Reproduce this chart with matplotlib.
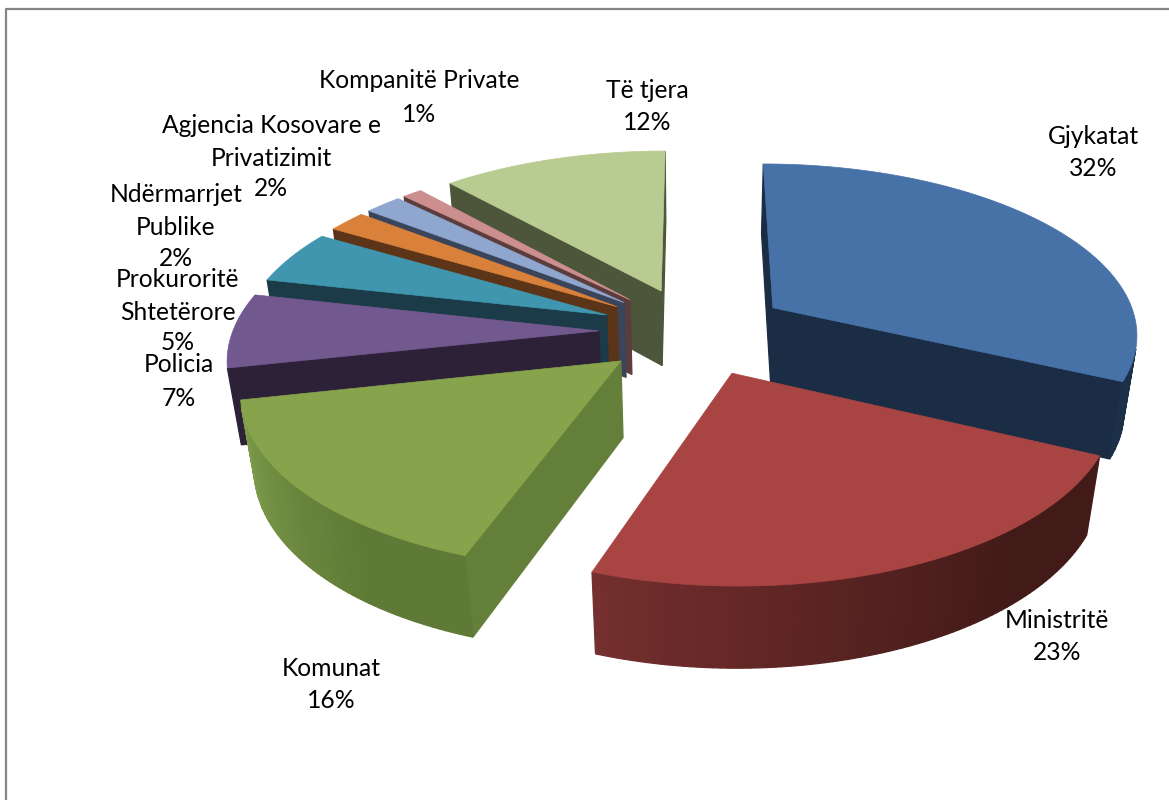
import matplotlib
matplotlib.use("Agg")
import matplotlib.pyplot as plt
import numpy as np
from matplotlib.colors import to_rgb
from matplotlib.patches import Polygon

plt.rcParams['font.family'] = ['Lato', 'DejaVu Sans']

# slices, clockwise from 12 o'clock (labels show them rounded)
names = ["Gjykatat", "Ministritë", "Komunat", "Policia", "Prokuroritë\nShtetërore",
         "Ndërmarrjet\nPublike", "Agjencia Kosovare e\nPrivatizimit", "Kompanitë Private", "Të tjera"]
values = [32.0, 23.4, 16.2, 6.9, 5.0, 2.0, 1.9, 1.0, 11.6]
top_colors = ["#4672a8", "#a84442", "#87a44c", "#71588f", "#3f96ae", "#d9813a", "#8fa6ce", "#cd8f8e", "#b8cc91"]
cut_colors = ["#1a2d45", "#451a18", "#647f39", "#2c2137", "#1a3b47", "#5c3417", "#3a445a", "#5c3d3d", "#4d553a"]
rim_left = ["#1c3048", "#752f2e", "#7f9e4c", "#2c2137", "#1a3b47", "#5c3417", "#3a445a", "#5c3d3d", "#4d553a"]
rim_right = ["#1a2d45", "#421a18", "#5f7a36", "#2c2137", "#1a3b47", "#5c3417", "#3a445a", "#5c3d3d", "#4d553a"]

# text pos in pixels (x centre, y centre of first line)
label_pos = [(1093, 137), (1057, 620), (331, 668), (179, 365), (178, 280),
             (176, 195), (271, 126), (419, 81), (647, 91)]
pct_pos = [(1093, 169), (1057, 653), (331, 701), (179, 398), (178, 343),
           (176, 259), (271, 189), (419, 114), (647, 123)]

cx, cy = 694, 331
RX, KY = 366, 170
EXPLODE = 0.26
PERSP = 0.14
HEIGHT = 78
PERSP_Z = 0.03


def project(x, y, z):
    # z: 0 on top face, 1 on the bottom face
    f = 1 / (1 + PERSP * y + PERSP_Z * z)
    return cx + RX * x * f, cy - KY * y * f + HEIGHT * z * f


def blend(a, b, t):
    a, b = np.array(to_rgb(a)), np.array(to_rgb(b))
    return a + (b - a) * t


def area(pts):
    p = np.array(pts)
    return 0.5 * np.sum(p[:, 0] * np.roll(p[:, 1], -1) - np.roll(p[:, 0], -1) * p[:, 1])


def draw_quad(ax, a, b, color):
    # wall between edge a-b, dropped from top to bottom; skip back faces
    pts = [project(a[0], a[1], 0), project(b[0], b[1], 0), project(b[0], b[1], 1), project(a[0], a[1], 1)]
    if area(pts) < 0:
        ax.add_patch(Polygon(pts, closed=True, fc=color, ec=color, lw=0.9))


def draw_slice(ax, i, a0, a1):
    mid = (a0 + a1) / 2
    ox, oy = EXPLODE * np.sin(mid), EXPLODE * np.cos(mid)
    th = np.linspace(a0, a1, max(8, int(np.degrees(a1 - a0))))
    xs = ox + np.sin(th)
    ys = oy + np.cos(th)
    apex = (ox, oy)
    # cut walls
    draw_quad(ax, apex, (xs[0], ys[0]), cut_colors[i])
    draw_quad(ax, (xs[-1], ys[-1]), apex, cut_colors[i])
    # rim, darker towards the start of the slice
    for j in range(len(th) - 1):
        t = min(1, 1.4 * (a1 - th[j]) / (a1 - a0))
        draw_quad(ax, (xs[j], ys[j]), (xs[j + 1], ys[j + 1]), blend(rim_left[i], rim_right[i], t))
    top = [project(ox, oy, 0)] + [project(x, y, 0) for x, y in zip(xs, ys)]
    ax.add_patch(Polygon(top, closed=True, fc=top_colors[i], ec=top_colors[i], lw=0.5))


def main():
    fig = plt.figure(figsize=(11.69, 8), dpi=100)
    ax = fig.add_axes([0, 0, 1, 1])
    ax.set_xlim(0, 1169)
    ax.set_ylim(800, 0)
    ax.axis("off")

    # chart border, only left and top are on the picture
    ax.plot([6, 6, 1169], [800, 9, 9], color="#868686", lw=1.6)

    edges = np.radians(np.cumsum([0] + values) * 3.6)
    mids = (edges[:-1] + edges[1:]) / 2
    # back slices first
    for i in np.argsort(-np.cos(mids)):
        draw_slice(ax, i, edges[i], edges[i + 1])

    for i, name in enumerate(names):
        n_lines = name.count("\n") + 1
        x, y = label_pos[i]
        ax.text(x, y + (n_lines - 1) * 16, name, ha="center", va="center", fontsize=17.7,
                linespacing=1.54, color="black")
        px, py = pct_pos[i]
        ax.text(px, py, f"{values[i]:.0f}%", ha="center", va="center", fontsize=17.7, color="black")

    fig.savefig("out.png", dpi=100)


if __name__ == "__main__":
    main()
